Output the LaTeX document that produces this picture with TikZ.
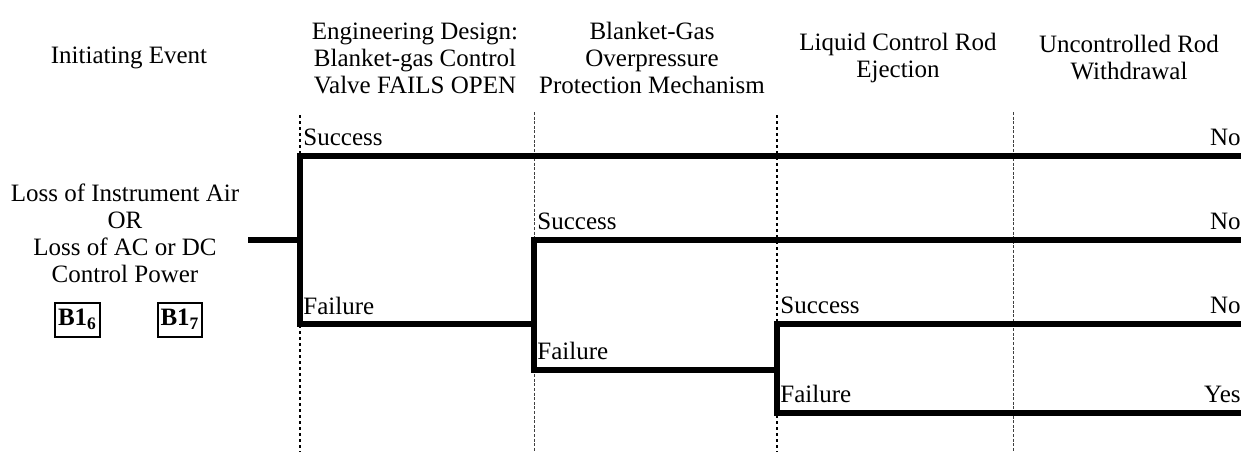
\documentclass[tikz,border=0pt]{standalone}
\usepackage{fontspec}
\setmainfont{Liberation Serif}
\usetikzlibrary{calc}
\usetikzlibrary{positioning}
\tikzstyle{branch}=[line width=2.9pt, line cap=rect, line join=miter]
\tikzstyle{sepdot}=[line width=1pt, dash pattern=on 1.5pt off 1.5pt]
\tikzstyle{sepdash}=[line width=0.5pt, black!75, dash pattern=on 1.5pt off 0.8pt]
\tikzstyle{lbl}=[anchor=base west, inner sep=1pt]
\tikzstyle{res}=[anchor=base east, inner sep=0pt]
\tikzstyle{head}=[align=center, inner sep=0pt]
\tikzstyle{tag}=[draw, line width=1pt, inner sep=1.5pt, minimum height=17pt]

\begin{document}
\begin{tikzpicture}[x=0.5pt,y=-0.5pt,every node/.style={font=\fontsize{12.5}{13.5}\selectfont}]
        \useasboundingbox (0,0) rectangle (1241,452);

        % column headings
        \node[head] (h0) at (129,58) {Initiating Event};
        \node[head] (h1) at (415,58) {Engineering Design:\\Blanket-gas Control\\Valve FAILS OPEN};
        \node[head] (h2) at (652,58) {Blanket-Gas\\Overpressure\\Protection Mechanism};
        \node[head] (h3) at (898,58) {Liquid Control Rod\\Ejection};
        \node[head] (h4) at (1129,58) {Uncontrolled Rod\\Withdrawal};

        % separators
        \draw[sepdot] (300,115) -- (300,452);
        \draw[sepdash] (534,112) -- (534,452);
        \draw[sepdot] (777,115) -- (777,452);
        \draw[sepdash] (1013,112) -- (1013,452);

        % initiating event
        \node[head] (ie) at (125,233) {Loss of Instrument Air\\OR\\Loss of AC or DC\\Control Power};
        \node[tag] (b16) at (77.5,319.5) {\textbf{B1}\textsubscript{\textbf{6}}};
        \node[tag] (b17) at (180,319.5) {\textbf{B1}\textsubscript{\textbf{7}}};

        % branch points and ends
        \coordinate (s) at (251,240);
        \coordinate (n0) at (300,240);
        \coordinate (n1) at (534,324);
        \coordinate (n2) at (777,370);
        \coordinate (e1) at (1241,156);
        \coordinate (e2) at (1241,240);
        \coordinate (e3) at (1241,324);
        \coordinate (e4) at (1241,413);

        \draw[branch] (s) -- (n0);
        \draw[branch] (n0) |- (e1);
        \draw[branch] (n0) |- (n1);
        \draw[branch] (n1) |- (e2);
        \draw[branch] (n1) |- (n2);
        \draw[branch] (n2) |- (e3);
        \draw[branch] (n2) |- (e4);

        % branch labels
        \node[lbl] (s1) at (301,145) {Success};
        \node[lbl] (f1) at (301,314) {Failure};
        \node[lbl] (s2) at (535,229) {Success};
        \node[lbl] (f2) at (535,359) {Failure};
        \node[lbl] (s3) at (778,313) {Success};
        \node[lbl] (f3) at (778,402) {Failure};

        % outcomes
        \node[res] (r1) at (1241,145) {No};
        \node[res] (r2) at (1241,229) {No};
        \node[res] (r3) at (1241,313) {No};
        \node[res] (r4) at (1241,402) {Yes};

\end{tikzpicture}
\end{document}
